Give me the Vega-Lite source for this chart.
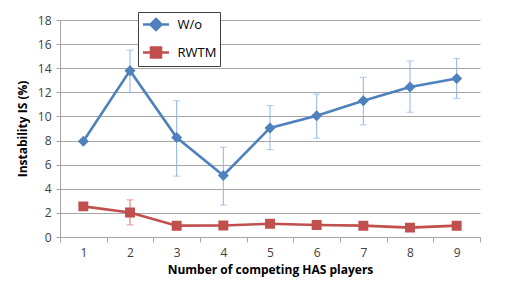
{
  "$schema": "https://vega.github.io/schema/vega-lite/v6.json",
  "width": 420,
  "height": 217,
  "autosize": "none",
  "padding": {"left": 60, "top": 20, "right": 25, "bottom": 51},
  "background": "white",
  "config": {
    "font": "Open Sans",
    "view": {"stroke": null},
    "axis": {
      "labelFont": "Open Sans",
      "labelFontSize": 12,
      "labelColor": "#404040",
      "titleFont": "Open Sans",
      "titleFontSize": 12,
      "titleFontWeight": "bold",
      "titleColor": "#000000",
      "domainColor": "#a6a6a6",
      "tickColor": "#a6a6a6",
      "gridColor": "#a6a6a6"
    }
  },
  "data": {
    "values": [
      {"n": 1, "series": "W/o", "value": 7.95},
      {"n": 2, "series": "W/o", "value": 13.8, "lo": 12.0, "hi": 15.5},
      {"n": 3, "series": "W/o", "value": 8.25, "lo": 5.05, "hi": 11.3},
      {"n": 4, "series": "W/o", "value": 5.1, "lo": 2.65, "hi": 7.45},
      {"n": 5, "series": "W/o", "value": 9.05, "lo": 7.25, "hi": 10.9},
      {"n": 6, "series": "W/o", "value": 10.05, "lo": 8.2, "hi": 11.85},
      {"n": 7, "series": "W/o", "value": 11.3, "lo": 9.3, "hi": 13.25},
      {"n": 8, "series": "W/o", "value": 12.45, "lo": 10.35, "hi": 14.6},
      {"n": 9, "series": "W/o", "value": 13.15, "lo": 11.5, "hi": 14.8},
      {"n": 1, "series": "RWTM", "value": 2.54},
      {"n": 2, "series": "RWTM", "value": 2.03, "lo": 1.0, "hi": 3.08},
      {"n": 3, "series": "RWTM", "value": 0.94},
      {"n": 4, "series": "RWTM", "value": 0.96},
      {"n": 5, "series": "RWTM", "value": 1.1},
      {"n": 6, "series": "RWTM", "value": 0.99},
      {"n": 7, "series": "RWTM", "value": 0.94},
      {"n": 8, "series": "RWTM", "value": 0.78},
      {"n": 9, "series": "RWTM", "value": 0.94}
    ]
  },
  "encoding": {
    "x": {
      "field": "n",
      "type": "ordinal",
      "bandPosition": 0.5,
      "scale": {"type": "band", "paddingInner": 0, "paddingOuter": 0},
      "axis": {
        "title": "Number of competing HAS players",
        "labelAngle": 0,
        "tickBand": "extent",
        "tickSize": 5,
        "labelPadding": 5,
        "titlePadding": 6,
        "grid": false
      }
    },
    "y": {
      "field": "value",
      "type": "quantitative",
      "scale": {"domain": [0, 18], "nice": false, "zero": true},
      "axis": {
        "title": "Instability IS (%)",
        "tickCount": 10,
        "labelOverlap": false,
        "grid": true,
        "tickSize": 4,
        "labelPadding": 5,
        "titlePadding": 8
      }
    }
  },
  "layer": [
    {
      "transform": [{"filter": "datum.lo != null && datum.series == 'W/o'"}],
      "mark": {"type": "errorbar", "ticks": {"size": 7, "thickness": 1}, "color": "#8db4e2", "thickness": 1},
      "encoding": {
        "y": {"field": "lo", "type": "quantitative"},
        "y2": {"field": "hi"}
      }
    },
    {
      "transform": [{"filter": "datum.lo != null && datum.series == 'RWTM'"}],
      "mark": {"type": "errorbar", "ticks": {"size": 7, "thickness": 1}, "color": "#e36c6a", "thickness": 1},
      "encoding": {
        "y": {"field": "lo", "type": "quantitative"},
        "y2": {"field": "hi"}
      }
    },
    {
      "mark": {"type": "line", "strokeWidth": 2.6},
      "encoding": {
        "color": {
          "field": "series",
          "type": "nominal",
          "scale": {"domain": ["W/o", "RWTM"], "range": ["#4f81bd", "#c0504d"]},
          "legend": {
            "title": null,
            "orient": "none",
            "legendX": 78,
            "legendY": -8,
            "strokeColor": "#404040",
            "fillColor": "white",
            "padding": 3,
            "labelFontSize": 13,
            "labelFont": "Open Sans",
            "labelColor": "#000000",
            "symbolSize": 256,
            "symbolStrokeWidth": 2.6,
            "symbolOffset": 5.5,
            "labelOffset": 12,
            "rowPadding": 6
          }
        }
      }
    },
    {
      "mark": {"type": "point", "filled": true, "opacity": 1},
      "encoding": {
        "color": {"field": "series", "type": "nominal"},
        "shape": {
          "field": "series",
          "type": "nominal",
          "scale": {"domain": ["W/o", "RWTM"], "range": ["M-1.625,0L1.625,0M0,-0.69L0.69,0L0,0.69L-0.69,0Z", "M-1.625,0L1.625,0M-0.62,-0.62L0.62,-0.62L0.62,0.62L-0.62,0.62Z"]}
        },
        "size": {"value": 256}
      }
    }
  ]
}
